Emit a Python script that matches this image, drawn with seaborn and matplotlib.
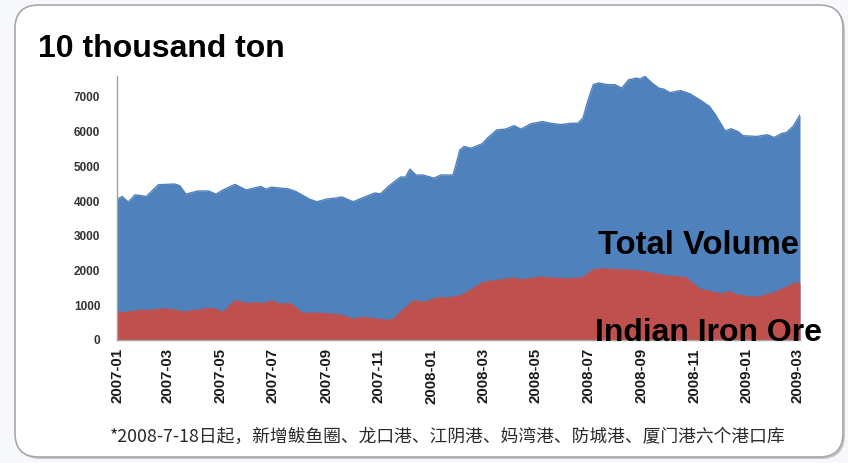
import matplotlib
matplotlib.use("Agg")
import matplotlib.pyplot as plt
from matplotlib.patches import FancyBboxPatch
import pandas as pd
import seaborn as sns

# ---------------- data ----------------
total_dates = [
    "2007-01-01", "2007-01-07", "2007-01-14", "2007-01-22", "2007-02-04", "2007-02-18",
    "2007-03-09", "2007-03-15", "2007-03-22", "2007-04-05", "2007-04-17", "2007-04-26",
    "2007-05-04", "2007-05-18", "2007-05-31", "2007-06-17", "2007-06-23", "2007-06-29",
    "2007-07-19", "2007-07-28", "2007-08-12", "2007-08-21", "2007-09-02", "2007-09-13",
    "2007-09-19", "2007-10-02", "2007-10-13", "2007-10-27", "2007-11-03", "2007-11-12",
    "2007-11-26", "2007-12-02", "2007-12-07", "2007-12-14", "2007-12-22", "2008-01-04",
    "2008-01-12", "2008-01-26", "2008-01-28", "2008-02-03", "2008-02-08", "2008-02-16",
    "2008-02-29", "2008-03-06", "2008-03-17", "2008-03-27", "2008-04-06", "2008-04-14",
    "2008-04-25", "2008-05-09", "2008-05-18", "2008-05-30", "2008-06-11", "2008-06-19",
    "2008-06-25", "2008-07-01", "2008-07-07", "2008-07-13", "2008-07-24", "2008-08-01",
    "2008-08-09", "2008-08-17", "2008-08-26", "2008-08-30", "2008-09-05", "2008-09-13",
    "2008-09-21", "2008-09-27", "2008-10-04", "2008-10-16", "2008-10-27", "2008-11-08",
    "2008-11-19", "2008-11-26", "2008-12-07", "2008-12-14", "2008-12-22", "2008-12-28",
    "2009-01-13", "2009-01-25", "2009-02-02", "2009-02-11", "2009-02-16", "2009-02-24",
    "2009-03-04",
]
total_values = [
    4050, 4130, 3970, 4180, 4130, 4470,
    4490, 4440, 4200, 4290, 4290, 4200,
    4320, 4480, 4320, 4420, 4340, 4400,
    4350, 4270, 4060, 3980, 4060, 4090,
    4120, 3980, 4090, 4230, 4210, 4420,
    4690, 4690, 4920, 4750, 4750, 4660,
    4750, 4750, 4900, 5470, 5570, 5520,
    5650, 5810, 6050, 6070, 6170, 6070,
    6220, 6290, 6240, 6200, 6240, 6240,
    6390, 6910, 7350, 7400, 7350, 7350,
    7250, 7490, 7540, 7510, 7590, 7400,
    7250, 7220, 7120, 7180, 7090, 6910,
    6720, 6480, 6020, 6080, 6000, 5880,
    5860, 5910, 5830, 5950, 5970, 6150,
    6480,
]

india_dates = [
    "2007-01-01", "2007-01-12", "2007-01-29", "2007-02-05", "2007-02-20", "2007-03-04",
    "2007-03-21", "2007-04-02", "2007-04-05", "2007-04-15", "2007-04-26", "2007-05-04",
    "2007-05-18", "2007-05-30", "2007-06-23", "2007-06-29", "2007-07-08", "2007-07-22",
    "2007-08-04", "2007-08-24", "2007-09-17", "2007-10-02", "2007-10-13", "2007-10-30",
    "2007-11-12", "2007-11-18", "2007-11-28", "2007-12-11", "2007-12-25", "2008-01-06",
    "2008-01-24", "2008-02-05", "2008-02-16", "2008-03-01", "2008-03-17", "2008-04-05",
    "2008-04-14", "2008-05-07", "2008-05-18", "2008-06-11", "2008-06-25", "2008-07-07",
    "2008-07-20", "2008-08-01", "2008-08-13", "2008-08-29", "2008-09-13", "2008-09-28",
    "2008-10-22", "2008-10-30", "2008-11-08", "2008-11-26", "2008-12-02", "2008-12-13",
    "2008-12-20", "2009-01-06", "2009-01-17", "2009-02-02", "2009-02-16", "2009-02-27",
    "2009-03-04",
]
india_values = [
    790, 790, 860, 840, 890, 880,
    800, 860, 840, 910, 880, 790,
    1130, 1060, 1060, 1130, 1040, 1040,
    770, 770, 720, 600, 650, 600,
    560, 600, 840, 1120, 1090, 1200,
    1220, 1280, 1440, 1660, 1710, 1780,
    1730, 1810, 1780, 1760, 1800, 2020,
    2050, 2020, 2020, 1990, 1920, 1850,
    1800, 1630, 1460, 1360, 1320, 1390,
    1300, 1230, 1250, 1360, 1510, 1650,
    1630,
]

tick_labels = ["2007-01", "2007-03", "2007-05", "2007-07", "2007-09", "2007-11",
               "2008-01", "2008-03", "2008-05", "2008-07", "2008-09", "2008-11",
               "2009-01", "2009-03"]
y_ticks = [0, 1000, 2000, 3000, 4000, 5000, 6000, 7000]

title_text = "10 thousand ton"
total_label = "Total Volume"
india_label = "Indian Iron Ore"
footnote = "*2008-7-18日起，新增鲅鱼圈、龙口港、江阴港、妈湾港、防城港、厦门港六个港口库"

# ---------------- frames ----------------
df_total = pd.DataFrame({"date": pd.to_datetime(total_dates), "value": total_values})
df_india = pd.DataFrame({"date": pd.to_datetime(india_dates), "value": india_values})

BLUE = "#4F81BD"
RED = "#C0504D"

sns.set_style("white")
plt.rcParams["font.family"] = ["Liberation Sans", "DejaVu Sans"]

W, H = 848, 463
fig = plt.figure(figsize=(W / 100, H / 100), dpi=100)
fig.patch.set_facecolor("#f6f8fb")

# rounded frame with soft shadow
aspect = W / H
shadow = FancyBboxPatch((17 / W, 4 / H), 828 / W, 452 / H,
                        boxstyle="round,pad=0,rounding_size=0.028",
                        mutation_aspect=aspect, transform=fig.transFigure,
                        facecolor="#c8c8c8", edgecolor="none", zorder=-2)
frame = FancyBboxPatch((15 / W, 6 / H), 828 / W, 452 / H,
                       boxstyle="round,pad=0,rounding_size=0.028",
                       mutation_aspect=aspect, transform=fig.transFigure,
                       facecolor="white", edgecolor="#a8a8a8", linewidth=1.2, zorder=-1)
fig.patches.extend([shadow, frame])

ax = fig.add_axes([117 / W, (H - 340) / H, (800 - 117) / W, (340 - 76) / H])
ax.set_zorder(2)
ax.patch.set_alpha(0)

ax.fill_between(df_total["date"], 0, df_total["value"], color=BLUE, linewidth=0, zorder=1)
sns.lineplot(data=df_total, x="date", y="value", ax=ax, color=BLUE, linewidth=1.0, zorder=2)
ax.fill_between(df_india["date"], 0, df_india["value"], color=RED, linewidth=0, zorder=3)
sns.lineplot(data=df_india, x="date", y="value", ax=ax, color=RED, linewidth=1.0, zorder=4)

ax.set_xlim(df_total["date"].min(), df_total["date"].max())
ax.set_ylim(0, 7600)
ax.set_xlabel("")
ax.set_ylabel("")

ax.set_yticks(y_ticks)
ax.set_yticklabels([str(v) for v in y_ticks], fontsize=8.5, fontweight="bold", color="#333333")
ax.set_xticks(pd.to_datetime(tick_labels))
ax.set_xticklabels(tick_labels, rotation=90, fontsize=10.8, fontweight="bold", color="#1a1a1a")
ax.tick_params(axis="y", direction="in", length=4, pad=12, color="#999999", width=0.8)
ax.tick_params(axis="x", direction="in", length=4, pad=6, color="#999999", width=0.8)

for side in ["top", "right"]:
    ax.spines[side].set_visible(False)
for side in ["left", "bottom"]:
    ax.spines[side].set_color("#a0a0a0")
    ax.spines[side].set_linewidth(1.0)
    ax.spines[side].set_zorder(5)

fig.text(38 / W, (H - 57) / H, title_text, fontsize=23, fontweight="bold",
         ha="left", va="baseline", color="black")
fig.text(598 / W, (H - 254) / H, total_label, fontsize=23.6, fontweight="bold",
         ha="left", va="baseline", color="black", zorder=10)
fig.text(595 / W, (H - 341) / H, india_label, fontsize=23, fontweight="bold",
         ha="left", va="baseline", color="black", zorder=10)
fig.text(448 / W, (H - 437) / H, footnote, fontsize=12.8,
         family=["Noto Sans CJK SC", "DejaVu Sans"], ha="center", va="center",
         color="#2a2a2a")

fig.savefig("out.png", dpi=100, facecolor=fig.get_facecolor())
